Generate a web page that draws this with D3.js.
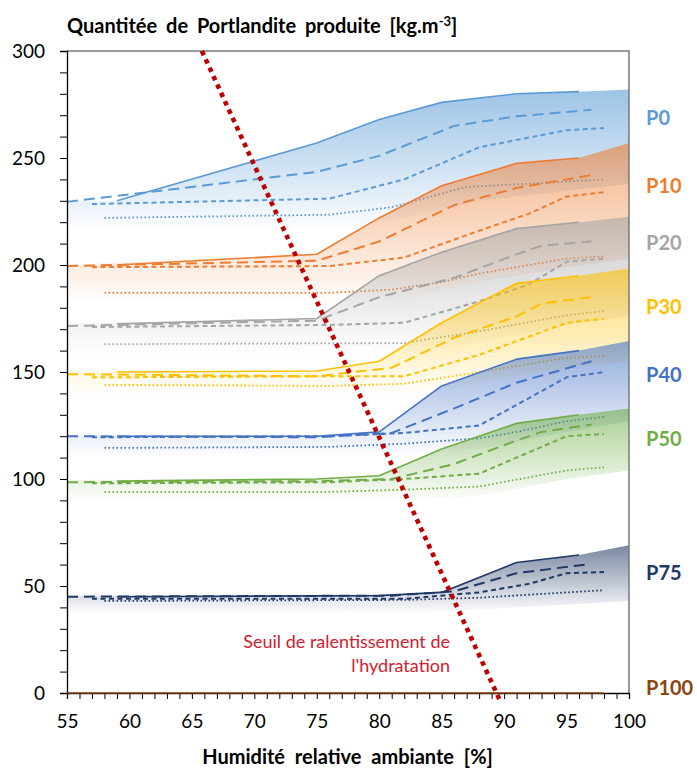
<!DOCTYPE html>
<html>
<head>
<meta charset="utf-8">
<script src="https://cdn.jsdelivr.net/npm/d3@7"></script>
<style>
  html, body { margin: 0; padding: 0; background: #fff; }
  svg { display: block; font-family: Lato, "Open Sans", "DejaVu Sans", sans-serif; }
</style>
</head>
<body>
<svg id="chart" width="697" height="769"></svg>
<script>
// ---- axis ticks ----
const xTickValues = d3.range(55, 101, 1);
const xLabelValues = [55, 60, 65, 70, 75, 80, 85, 90, 95, 100];
const yTickValues = d3.range(0, 301, 10);
const yLabelValues = [0, 50, 100, 150, 200, 250, 300];

// ---- series: [humidité relative %, portlandite kg.m-3] ----
const p0Solid  = [[59,230],[75,257],[80,268],[85,276],[91,280],[96,281]];
const p0Long   = [[55,229.5],[70,240],[75,243.5],[80,251],[86,265],[91,269.5],[97,272.5]];
const p0Short  = [[57,228.5],[76,231],[82,240],[88,255],[95,263],[98,264]];
const p0Dot    = [[58,222],[76,223.5],[81,227],[87,236.5],[92,238],[98,240]];
const p0BandTop    = [[55,230],[59,230],[75,257],[80,268],[85,276],[91,280],[96,281],[100,282]];
const p0BandBottom = [[55,215],[76,216],[82,222],[88,230],[100,238]];

const p10Solid = [[59,200],[75,205],[80,222],[85,237],[91,247.5],[96,250]];
const p10Long  = [[55,199.5],[75,202],[80,211],[86,228],[91,236],[97,242]];
const p10Short = [[57,199],[76,199.5],[82,203.5],[88,216],[92,224],[95,232],[98,234]];
const p10Dot   = [[58,187],[76,187],[81,188.5],[85,192],[88,196],[95,203],[98,204]];
const p10BandTop    = [[55,200],[75,205],[80,222],[85,237],[91,247.5],[96,250],[100,257]];
const p10BandBottom = [[55,182],[76,182],[82,184],[88,192],[95,199],[100,203]];

const p20Solid = [[59,172.5],[75,175],[80,195],[85,206],[91,217],[96,220]];
const p20Long  = [[55,171.5],[75,174],[80,185],[86,194],[91,205],[93,209],[97,211]];
const p20Short = [[57,171],[76,172],[82,173],[88,183],[92,191],[95,201.5],[98,203]];
const p20Dot   = [[58,163],[82,163.5],[88,169],[95,176.5],[98,178.5]];
const p20BandTop    = [[55,172.5],[75,175],[80,195],[85,206],[91,217],[96,220],[100,222.5]];
const p20BandBottom = [[55,158],[82,158],[88,164],[95,172],[100,176]];

const p30Solid = [[59,150],[75,150.5],[80,155],[85,173],[91,191.5],[96,195]];
const p30Long  = [[55,149],[75,148],[81,152],[86,166],[91,176],[93,182],[97,185]];
const p30Short = [[57,147.5],[76,148],[82,148],[88,158],[95,173],[98,175]];
const p30Dot   = [[58,144],[76,143.5],[82,144.5],[88,150],[95,156.5],[98,157.5]];
const p30BandTop    = [[55,150],[75,150.5],[80,155],[85,173],[91,191.5],[96,195],[100,198.5]];
const p30BandBottom = [[55,139],[82,139],[88,145],[95,152],[100,155]];

const p40Solid = [[59,120],[75,120],[80,122],[85,143.5],[91,156],[96,160]];
const p40Long  = [[55,120],[75,119.5],[81,121.5],[86,133],[91,145],[97,155]];
const p40Short = [[57,119.5],[76,120],[82,121.5],[88,125],[95,147.5],[98,150]];
const p40Dot   = [[58,114.5],[76,115],[82,116.5],[88,119],[91,122],[95,127],[98,129]];
const p40BandTop    = [[55,120.5],[75,120.5],[80,122],[85,143.5],[91,156],[96,160],[100,164.5]];
const p40BandBottom = [[55,110],[82,111],[88,114],[95,122],[100,127]];

const p50Solid = [[59,99],[75,100],[80,101.5],[85,114],[91,126],[96,130]];
const p50Long  = [[55,98.5],[75,99],[81,100],[86,107],[91,118],[93,122],[97,125.5]];
const p50Short = [[57,98],[76,98.5],[82,100],[88,102.5],[95,120],[98,121]];
const p50Dot   = [[58,94],[76,94],[82,95],[88,96.5],[95,104],[98,105.5]];
const p50BandTop    = [[55,99.5],[75,100],[80,101.5],[85,114],[91,126],[96,130],[100,133]];
const p50BandBottom = [[55,89],[82,90],[88,92],[95,100],[100,104]];

const p75Solid = [[59,45],[80,45.5],[85,47],[91,61],[96,64.5]];
const p75Long  = [[55,45],[81,45.5],[86,47.5],[91,56],[96.5,60]];
const p75Short = [[57,44],[82,44],[85,45.5],[88,47],[92,51],[95,56],[98,56.5]];
const p75Dot   = [[58,43],[82,43.5],[88,44.5],[95,47],[98,48]];
const p75BandTop    = [[55,45.5],[80,45.5],[85,47.5],[91,61],[96,64.5],[100,69]];
const p75BandBottom = [[55,37],[85,38],[100,43]];

const p100Solid = [[55,0],[98,0]];

// threshold of slowed hydration
const thresholdLine = [[65.8,300],[89.65,-3.3]];
const thresholdText = ["Seuil de ralentissement de", "l'hydratation"];

// series names and the level where their name sits on the right
const groupNames  = ["P0","P10","P20","P30","P40","P50","P75","P100"];
const labelLevels = [268.7, 236.9, 210.3, 180.4, 148.6, 118.7, 56.1, 2.3];

// ---- layout ----
const svg = d3.select("#chart");
const x = d3.scaleLinear().domain([55, 100]).range([67, 629]);
const y = d3.scaleLinear().domain([0, 300]).range([693, 51]);

const palette = {
  P0: "#5B9BD5", P10: "#ED7D31", P20: "#A5A5A5", P30: "#FFC000",
  P40: "#4472C4", P50: "#70AD47", P75: "#203864", P100: "#8C4410"
};

const groups = [
  {name:"P0",  solid:p0Solid,  long:p0Long,  short:p0Short,  dot:p0Dot,  top:p0BandTop,  bottom:p0BandBottom},
  {name:"P10", solid:p10Solid, long:p10Long, short:p10Short, dot:p10Dot, top:p10BandTop, bottom:p10BandBottom},
  {name:"P20", solid:p20Solid, long:p20Long, short:p20Short, dot:p20Dot, top:p20BandTop, bottom:p20BandBottom},
  {name:"P30", solid:p30Solid, long:p30Long, short:p30Short, dot:p30Dot, top:p30BandTop, bottom:p30BandBottom},
  {name:"P40", solid:p40Solid, long:p40Long, short:p40Short, dot:p40Dot, top:p40BandTop, bottom:p40BandBottom},
  {name:"P50", solid:p50Solid, long:p50Long, short:p50Short, dot:p50Dot, top:p50BandTop, bottom:p50BandBottom},
  {name:"P75", solid:p75Solid, long:p75Long, short:p75Short, dot:p75Dot, top:p75BandTop, bottom:p75BandBottom}
];

const lineStyles = {
  solid: {width: 1.6, dash: null},
  long:  {width: 2,   dash: "11,6"},
  short: {width: 2,   dash: "5,3.5"},
  dot:   {width: 1.8, dash: "1.6,2.4"}
};

const defs = svg.append("defs");
const line = d3.line().x(d => x(d[0])).y(d => y(d[1]));

// band polygon: top edge left→right, bottom edge right→left
function bandPath(top, bottom) {
  const pts = top.concat(bottom.slice().reverse());
  return d3.line().x(d => x(d[0])).y(d => y(d[1]))(pts) + "Z";
}

const plot = svg.append("g");

groups.forEach((g, i) => {
  const c = palette[g.name];
  const grad = defs.append("linearGradient")
    .attr("id", "band" + i).attr("x1", 0).attr("y1", 0).attr("x2", 0).attr("y2", 1);
  grad.append("stop").attr("offset", "0%").attr("stop-color", c).attr("stop-opacity", 0.6);
  grad.append("stop").attr("offset", "55%").attr("stop-color", c).attr("stop-opacity", 0.28);
  grad.append("stop").attr("offset", "100%").attr("stop-color", c).attr("stop-opacity", 0);

  const gg = plot.append("g");
  gg.append("path").attr("d", bandPath(g.top, g.bottom)).attr("fill", `url(#band${i})`);

  ["dot", "short", "long", "solid"].forEach(k => {
    const st = lineStyles[k];
    gg.append("path")
      .attr("d", line(g[k]))
      .attr("fill", "none")
      .attr("stroke", c)
      .attr("stroke-width", st.width)
      .attr("stroke-dasharray", st.dash)
      .attr("stroke-linejoin", "round");
  });
});

// ---- frame: top & right border ----
svg.append("path")
  .attr("d", `M${x(55)},${y(300)}H${x(100)}V${y(0)}`)
  .attr("fill", "none").attr("stroke", "#7a7a7a").attr("stroke-width", 1.5);

// ---- axes ----
const yAxis = d3.axisLeft(y)
  .tickValues(yTickValues)
  .tickSize(7).tickPadding(15)
  .tickFormat(d => yLabelValues.includes(d) ? d : "");
const yg = svg.append("g").attr("transform", `translate(${x(55)},0)`).call(yAxis);

const xAxis = d3.axisBottom(x)
  .tickValues(xTickValues)
  .tickSize(6).tickPadding(16)
  .tickFormat(d => xLabelValues.includes(d) ? d : "");
const xg = svg.append("g").attr("transform", `translate(0,${y(0)})`).call(xAxis);

[yg, xg].forEach(a => {
  a.select(".domain").attr("stroke", "#000").attr("stroke-width", 1.3);
  a.selectAll(".tick line").attr("stroke", "#000").attr("stroke-width", 1);
  a.selectAll(".tick text").attr("fill", "#000")
    .style("font-family", "Lato, 'Open Sans', sans-serif").style("font-size", "19px");
});

// P100 along zero
svg.append("path").attr("d", line(p100Solid))
  .attr("fill", "none").attr("stroke", palette.P100).attr("stroke-width", 1.6);

// ---- threshold line ----
svg.append("path").attr("d", line(thresholdLine))
  .attr("fill", "none").attr("stroke", "#C00000")
  .attr("stroke-width", 4.6).attr("stroke-dasharray", "4.6,4.6");

const tt = svg.append("text")
  .attr("text-anchor", "end").attr("fill", "#D0202E")
  .style("font-size", "18px");
tt.append("tspan").attr("x", 450).attr("y", 648).text(thresholdText[0]);
tt.append("tspan").attr("x", 450).attr("y", 672).text(thresholdText[1]);

// ---- series names ----
svg.append("g").selectAll("text").data(groupNames).join("text")
  .attr("x", 646)
  .attr("y", (d, i) => y(labelLevels[i]))
  .attr("dy", "0.36em")
  .attr("fill", d => palette[d])
  .style("font-weight", "bold").style("font-size", "20px")
  .text(d => d);

// ---- titles ----
const title = svg.append("text").attr("x", 67).attr("y", 33)
  .style("font-weight", "bold").style("font-size", "20px")
  .style("word-spacing", "4px").attr("fill", "#000");
title.append("tspan").text("Quantitée de Portlandite produite [kg.m");
title.append("tspan").attr("dy", -7.5).style("font-size", "13px").text("-3");
title.append("tspan").attr("dy", 7.5).text("]");

svg.append("text").attr("x", 347.5).attr("y", 764)
  .attr("text-anchor", "middle")
  .style("font-weight", "bold").style("font-size", "20px")
  .style("word-spacing", "5px").attr("fill", "#000")
  .text("Humidité relative ambiante [%]");
</script>
</body>
</html>
